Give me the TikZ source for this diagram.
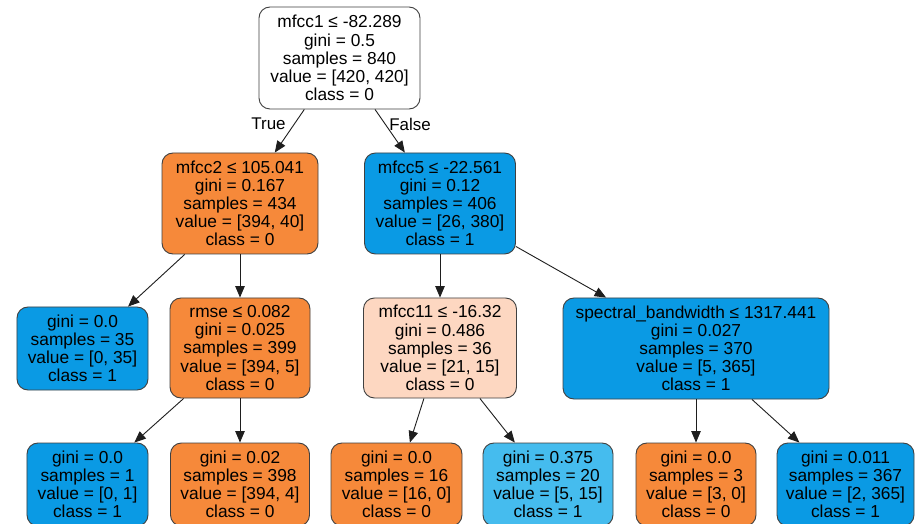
\documentclass[tikz,border=0pt]{standalone}
\usepackage{fontspec}
\setmainfont{Liberation Sans}
\usetikzlibrary{arrows.meta}

\definecolor{clsorange}{HTML}{F6893A}
\definecolor{clsblue}{HTML}{0A9AE4}
\definecolor{clspeach}{HTML}{FDD7C1}
\definecolor{clslightblue}{HTML}{45BCEE}
\definecolor{edgegray}{HTML}{1E1E1E}

\begin{document}
\begin{tikzpicture}[x=1bp, y=-1bp,
  treenode/.style={draw=edgegray!85, line width=0.9bp, rectangle,
    rounded corners=11bp, align=center, inner sep=0pt,
    font=\fontsize{17.4}{18.2}\selectfont},
  edge/.style={draw=edgegray, line width=0.9bp,
    -{Triangle[length=11.5bp,width=9.5bp]}},
  elabel/.style={font=\fontsize{17}{18}\selectfont, inner sep=0pt}]

\clip (0,0) rectangle (915,524);
\fill[white] (0,0) rectangle (915,524);

% root
\node[treenode, fill=white, minimum width=161bp, minimum height=102bp] (root) at (339.5,58)
  {mfcc1 ≤ -82.289\\gini = 0.5\\samples = 840\\value = [420, 420]\\class = 0};

% first split
\node[treenode, fill=clsorange, minimum width=156bp, minimum height=101bp] (mfcctwo) at (240,203.5)
  {mfcc2 ≤ 105.041\\gini = 0.167\\samples = 434\\value = [394, 40]\\class = 0};
\node[treenode, fill=clsblue, minimum width=151bp, minimum height=101bp] (mfccfive) at (440,203.5)
  {mfcc5 ≤ -22.561\\gini = 0.12\\samples = 406\\value = [26, 380]\\class = 1};

% second level
\node[treenode, fill=clsblue, minimum width=131bp, minimum height=83bp] (leafa) at (82.5,348.5)
  {gini = 0.0\\samples = 35\\value = [0, 35]\\class = 1};
\node[treenode, fill=clsorange, minimum width=140bp, minimum height=100bp] (rmse) at (240,348)
  {rmse ≤ 0.082\\gini = 0.025\\samples = 399\\value = [394, 5]\\class = 0};
\node[treenode, fill=clspeach, minimum width=153bp, minimum height=100bp] (mfcceleven) at (440,348)
  {mfcc11 ≤ -16.32\\gini = 0.486\\samples = 36\\value = [21, 15]\\class = 0};
\node[treenode, fill=clsblue, minimum width=266bp, minimum height=101bp] (spectral) at (696,348.5)
  {spectral\_bandwidth ≤ 1317.441\\gini = 0.027\\samples = 370\\value = [5, 365]\\class = 1};

% leaves
\node[treenode, fill=clsblue, minimum width=121bp, minimum height=83bp] (leafb) at (87.5,484.5)
  {gini = 0.0\\samples = 1\\value = [0, 1]\\class = 1};
\node[treenode, fill=clsorange, minimum width=139bp, minimum height=83bp] (leafc) at (240,484.5)
  {gini = 0.02\\samples = 398\\value = [394, 4]\\class = 0};
\node[treenode, fill=clsorange, minimum width=131bp, minimum height=83bp] (leafd) at (396.5,484.5)
  {gini = 0.0\\samples = 16\\value = [16, 0]\\class = 0};
\node[treenode, fill=clslightblue, minimum width=130bp, minimum height=83bp] (leafe) at (548,484.5)
  {gini = 0.375\\samples = 20\\value = [5, 15]\\class = 1};
\node[treenode, fill=clsorange, minimum width=120bp, minimum height=83bp] (leaff) at (696,484.5)
  {gini = 0.0\\samples = 3\\value = [3, 0]\\class = 0};
\node[treenode, fill=clsblue, minimum width=137bp, minimum height=83bp] (leafg) at (845.5,484.5)
  {gini = 0.011\\samples = 367\\value = [2, 365]\\class = 1};

% connectors
\draw[edge] (root) -- (mfcctwo);
\draw[edge] (root) -- (mfccfive);
\draw[edge] (mfcctwo) -- (leafa);
\draw[edge] (mfcctwo) -- (rmse);
\draw[edge] (mfccfive) -- (mfcceleven);
\draw[edge] (mfccfive) -- (spectral);
\draw[edge] (rmse) -- (leafb);
\draw[edge] (rmse) -- (leafc);
\draw[edge] (mfcceleven) -- (leafd);
\draw[edge] (mfcceleven) -- (leafe);
\draw[edge] (spectral) -- (leaff);
\draw[edge] (spectral) -- (leafg);

% branch labels
\node[elabel] (truelabel) at (268.5,124) {True};
\node[elabel] (falselabel) at (410,124) {False};
\end{tikzpicture}
\end{document}
